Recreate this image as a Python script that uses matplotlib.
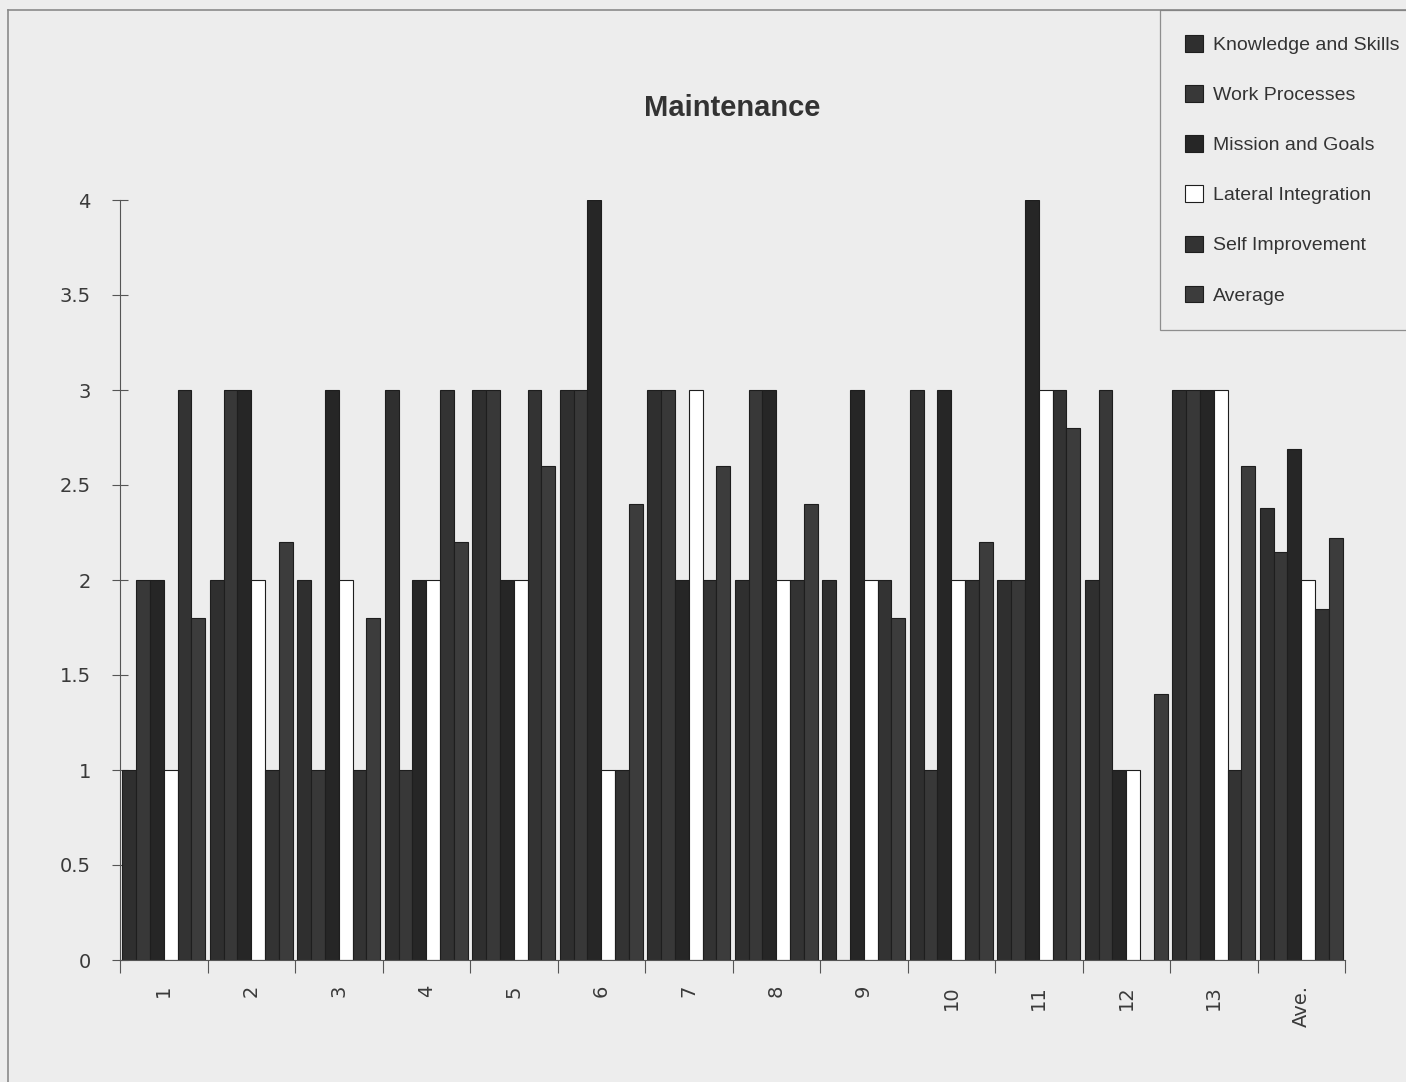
import matplotlib
matplotlib.use("Agg")
import matplotlib.pyplot as plt
import numpy as np
from matplotlib.lines import Line2D

categories = ["1", "2", "3", "4", "5", "6", "7", "8", "9", "10", "11", "12", "13", "Ave."]
series_names = ["Knowledge and Skills", "Work Processes", "Mission and Goals",
                "Lateral Integration", "Self Improvement", "Average"]

knowledge = [1, 2, 2, 3, 3, 3, 3, 2, 2, 3, 2, 2, 3, 2.38]
work      = [2, 3, 1, 1, 3, 3, 3, 3, 0, 1, 2, 3, 3, 2.15]
mission   = [2, 3, 3, 2, 2, 4, 2, 3, 3, 3, 4, 1, 3, 2.69]
lateral   = [1, 2, 2, 2, 2, 1, 3, 2, 2, 2, 3, 1, 3, 2.00]
self_imp  = [3, 1, 1, 3, 3, 1, 2, 2, 2, 2, 3, 0, 1, 1.85]
average   = [1.8, 2.2, 1.8, 2.2, 2.6, 2.4, 2.6, 2.4, 1.8, 2.2, 2.8, 1.4, 2.6, 2.22]

series = [knowledge, work, mission, lateral, self_imp, average]
colors = ["#2f2f2f", "#383838", "#262626", "#ffffff", "#333333", "#3c3c3c"]

bg = "#ededed"
fig = plt.figure(figsize=(14.06, 10.82), dpi=100, facecolor=bg)
ax = fig.add_axes([120/1406, 1-960/1082, (1345-120)/1406, 760/1082])
ax.set_facecolor(bg)

x = np.arange(len(categories))
w = 0.158
for j, (vals, c, name) in enumerate(zip(series, colors, series_names)):
    ax.bar(x + (j - 2.5) * w, vals, width=w, color=c, edgecolor="#1e1e1e",
           linewidth=0.8, label=name, zorder=2)

ax.set_xlim(-0.5, len(categories) - 0.5)
ax.set_ylim(0, 4)
ax.set_yticks(np.arange(0, 4.01, 0.5))
ax.set_yticklabels(["0", "0.5", "1", "1.5", "2", "2.5", "3", "3.5", "4"])
ax.tick_params(axis="y", direction="inout", length=12, width=0.8, color="#555555",
               labelsize=14, labelcolor="#3a3a3a", pad=15)
ax.set_xticks(x)
ax.set_xticklabels(categories, rotation=90)
ax.tick_params(axis="x", which="major", length=0, labelsize=14,
               labelcolor="#3a3a3a", pad=18)
ax.set_xticks(np.arange(-0.5, len(categories)), minor=True)
ax.tick_params(axis="x", which="minor", direction="out", length=9, width=0.8,
               color="#555555")
for s in ["top", "right"]:
    ax.spines[s].set_visible(False)
for s in ["left", "bottom"]:
    ax.spines[s].set_color("#555555")
    ax.spines[s].set_linewidth(0.8)

ax.text(0.5, (960-108)/760, "Maintenance", transform=ax.transAxes,
        ha="center", va="center", fontsize=21, fontweight="bold",
        color="#333333", family="Liberation Sans")

leg = fig.legend(loc="upper left", bbox_to_anchor=(1160/1406, 1-10/1082),
                 frameon=True, fancybox=False, edgecolor="#777777",
                 facecolor=bg, labelspacing=1.6,
                 handlelength=0.93, handleheight=0.93, handletextpad=0.5,
                 borderpad=1.3, borderaxespad=0,
                 prop={"family": "Liberation Sans", "size": 14})
leg.get_frame().set_linewidth(0.9)
for t in leg.get_texts():
    t.set_color("#333333")

# outer frame of the scanned chart area
fig.add_artist(Line2D([8/1406, 1], [1-10/1082, 1-10/1082], transform=fig.transFigure,
                      color="#8a8a8a", linewidth=1.2))
fig.add_artist(Line2D([8/1406, 8/1406], [0, 1-10/1082], transform=fig.transFigure,
                      color="#8a8a8a", linewidth=1.2))

fig.savefig("out.png", dpi=100, facecolor=bg)
